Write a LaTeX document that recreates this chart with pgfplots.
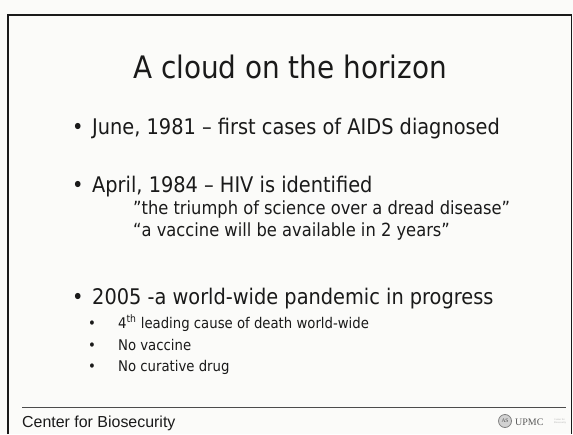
\documentclass[border=0pt]{standalone}
\usepackage{pgfplots}
\pgfplotsset{compat=1.18}
\usepackage{fontspec}
\setmainfont{DejaVu Sans Condensed}
\newfontfamily\arial{Liberation Sans}
\newfontfamily\tnr{Liberation Serif}
\definecolor{ink}{HTML}{1A1A1A}
\definecolor{bg}{HTML}{FBFBF9}
\begin{document}
\begin{tikzpicture}
\begin{axis}[scale only axis, width=573bp, height=434bp,
  xmin=0, xmax=573, ymin=0, ymax=434, y dir=reverse,
  hide axis, clip=false]
\addplot[draw=none, fill=bg] coordinates {(0,0) (573,0) (573,434) (0,434)} -- cycle;
\addplot[ink, line width=1.3bp] coordinates {(8,434) (8,15) (571.5,15) (571.5,434)};
\addplot[gray!60!black, line width=1.2bp] coordinates {(22,407.5) (566,407.5)};
% title
\node[anchor=base, text=ink, font=\fontsize{31.1}{33}\selectfont] at (axis cs:290,79) {A cloud on the horizon};
% main bullets
\def\mainfs{\fontsize{21.6}{23}\selectfont}
\def\subfs{\fontsize{18.2}{20}\selectfont}
\def\subsubfs{\fontsize{14.8}{16}\selectfont}
\node[anchor=base west, text=ink, font=\mainfs, inner sep=0pt] at (axis cs:72,134) {\textbullet\hspace{0.4em}June, 1981 -- first cases of AIDS diagnosed};
\node[anchor=base west, text=ink, font=\mainfs, inner sep=0pt] at (axis cs:72,192) {\textbullet\hspace{0.4em}April, 1984 -- HIV is identified};
\node[anchor=base west, text=ink, font=\subfs, inner sep=0pt] at (axis cs:133,214) {"the triumph of science over a dread disease"};
\node[anchor=base west, text=ink, font=\subfs, inner sep=0pt] at (axis cs:133,236) {``a vaccine will be available in 2 years''};
\node[anchor=base west, text=ink, font=\mainfs, inner sep=0pt] at (axis cs:72,304) {\textbullet\hspace{0.4em}2005 -a world-wide pandemic in progress};
\node[anchor=base west, text=ink, font=\subsubfs, inner sep=0pt] at (axis cs:88,328) {\textbullet\hspace{1.5em}4\textsuperscript{th} leading cause of death world-wide};
\node[anchor=base west, text=ink, font=\subsubfs, inner sep=0pt] at (axis cs:88,350) {\textbullet\hspace{1.5em}No vaccine};
\node[anchor=base west, text=ink, font=\subsubfs, inner sep=0pt] at (axis cs:88,371) {\textbullet\hspace{1.5em}No curative drug};
% footer
\node[anchor=base west, text=ink, font=\arial\fontsize{16}{18}\selectfont, inner sep=0pt] at (axis cs:22,427) {Center for Biosecurity};
\node[circle, draw=gray, fill=gray!35, line width=0.8bp, minimum size=13bp, inner sep=0pt, font=\tnr\fontsize{5.5}{6}\selectfont, text=gray!60!black] at (axis cs:505,421) {AS};
\node[anchor=base west, text=gray!70!black, font=\tnr\fontsize{10}{11}\selectfont, inner sep=0pt] at (axis cs:515,425) {UPMC};
\node[anchor=west, text=gray!60, font=\tnr\fontsize{2.6}{3.2}\selectfont, inner sep=0pt, align=left] at (axis cs:554,421) {Center for\\Biosecurity};
\end{axis}
\end{tikzpicture}
\end{document}
